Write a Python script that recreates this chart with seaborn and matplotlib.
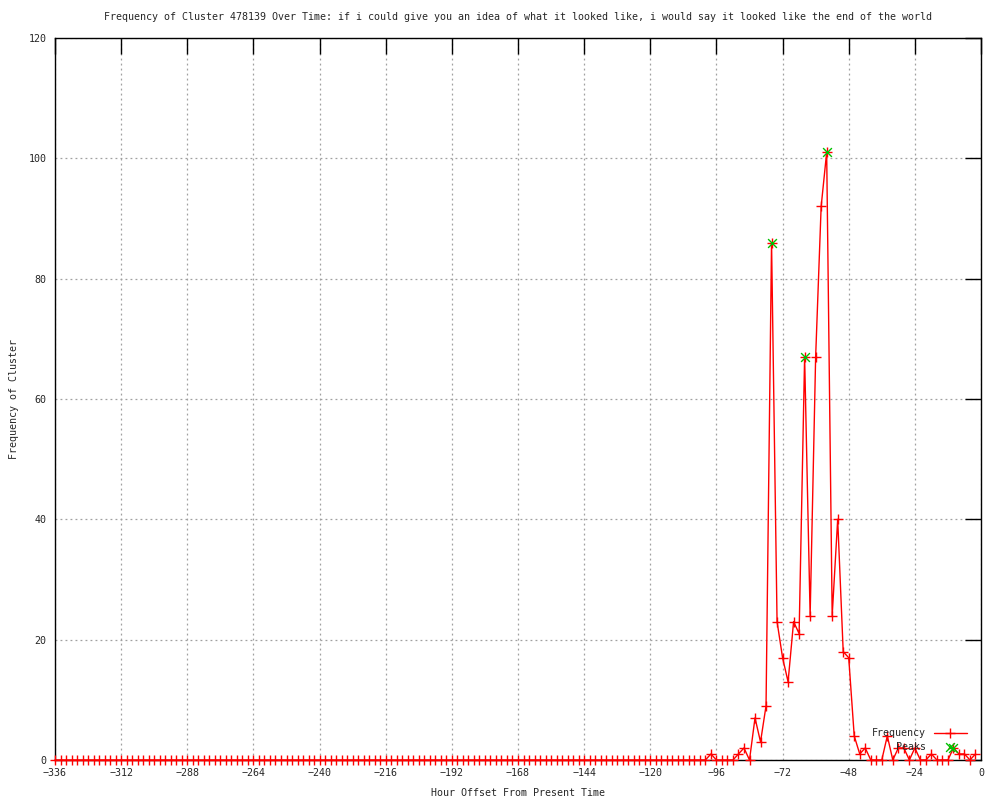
import numpy as np
import pandas as pd
import seaborn as sns
import matplotlib
matplotlib.use("Agg")
import matplotlib.pyplot as plt

# --- data ---
hours = list(range(-336, 0, 2))
freq = [0] * 119 + [
    1, 0, 0, 0, 0, 1, 2, 0, 7, 3,
    9, 86, 23, 17, 13, 23, 21, 67, 24, 67,
    92, 101, 24, 40, 18, 17, 4, 1, 2, 0,
    0, 0, 4, 0, 2, 2, 0, 2, 0, 0,
    1, 0, 0, 0, 2, 1, 1, 0, 1,
]
peak_hours = [-76, -64, -56, -10]
peak_values = [86, 67, 101, 2]

x_ticks = list(range(-336, 1, 24))
y_ticks = list(range(0, 121, 20))

TITLE = ("Frequency of Cluster 478139 Over Time: if i could give you an idea of "
         "what it looked like, i would say it looked like the end of the world")

df = pd.DataFrame({"hour": hours, "freq": freq})
peaks = pd.DataFrame({"hour": peak_hours, "freq": peak_values})

sns.set_theme(style="white")
plt.rcParams["font.family"] = ["DejaVu Sans Mono"]
FS = 7.2

fig = plt.figure(figsize=(10, 8), dpi=100)
ax = fig.add_axes([0.055, 0.05, 0.926, 0.9025])

ax.grid(True, color="#a0a0a0", linestyle=(0, (1.5, 2.5)), linewidth=0.9)
ax.set_axisbelow(True)

sns.lineplot(data=df, x="hour", y="freq", ax=ax, color="red", linewidth=1,
             marker="+", markersize=7, markeredgewidth=1, markeredgecolor="red",
             label="Frequency", clip_on=False, zorder=3)
sns.scatterplot(data=peaks, x="hour", y="freq", ax=ax, color="#00c000",
                marker="x", s=40, linewidth=1, label="Peaks", zorder=4,
                clip_on=False)

ax.set_xlim(-336, 0)
ax.set_ylim(0, 120)
ax.set_xticks(x_ticks)
ax.set_yticks(y_ticks)
ax.tick_params(direction="in", length=11.5, width=1, color="black",
               top=True, right=True, labelsize=FS, pad=6)
for s in ax.spines.values():
    s.set_color("black")
    s.set_linewidth(1)

ax.set_title(TITLE, fontsize=FS, pad=13)
ax.set_xlabel("Hour Offset From Present Time", fontsize=FS, labelpad=7)
ax.set_ylabel("Frequency of Cluster", fontsize=FS, labelpad=7)

leg = ax.legend(loc="lower right", bbox_to_anchor=(0.993, 0.0), frameon=False,
                markerfirst=False, fontsize=FS, handlelength=3.3,
                labelspacing=0.35, borderaxespad=0.4)

fig.savefig("out.png", dpi=100)
